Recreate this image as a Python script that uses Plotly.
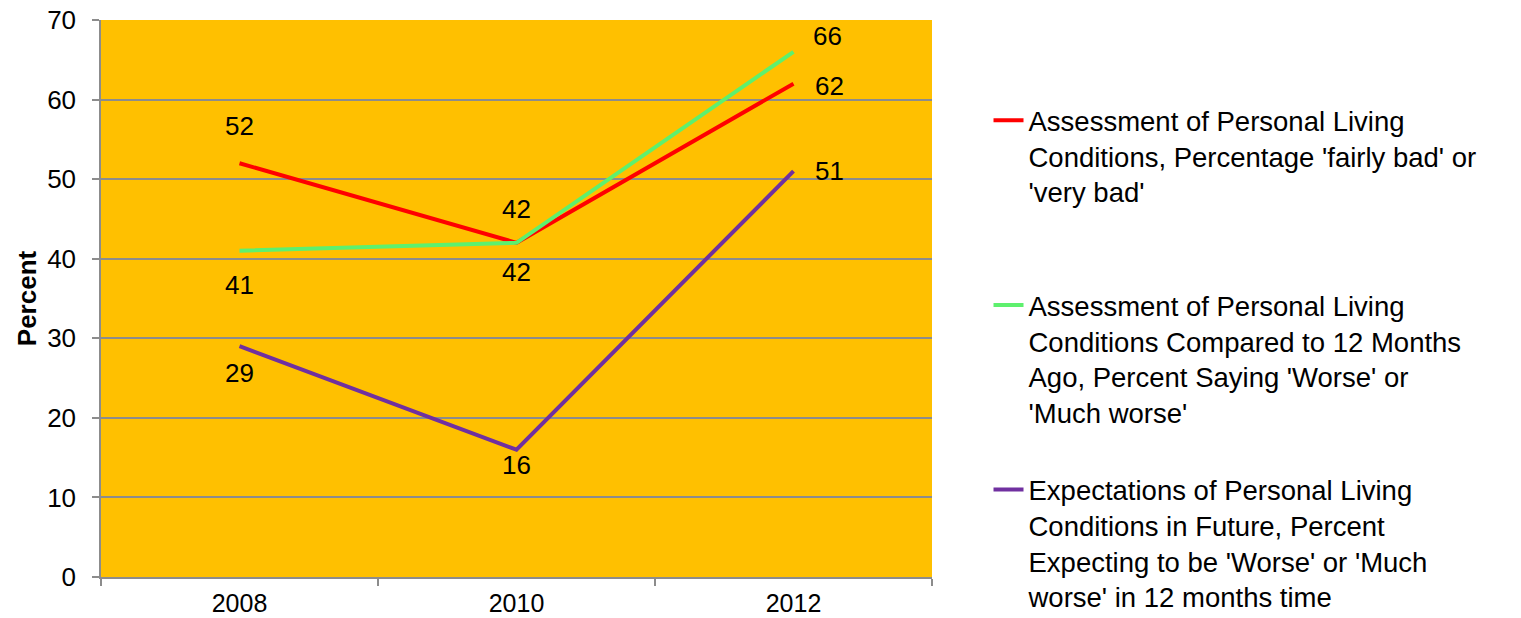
import plotly.graph_objects as go

years = ["2008", "2010", "2012"]
series_names = [
    "Assessment of Personal Living<br>Conditions, Percentage 'fairly bad' or<br>'very bad'",
    "Assessment of Personal Living<br>Conditions Compared to 12 Months<br>Ago, Percent Saying 'Worse' or<br>'Much worse'",
    "Expectations of Personal Living<br>Conditions in Future, Percent<br>Expecting to be 'Worse' or 'Much<br>worse' in 12 months time",
]
bad_now = [52, 42, 62]
worse_than_before = [41, 42, 66]
worse_future = [29, 16, 51]
y_ticks = [0, 10, 20, 30, 40, 50, 60, 70]

series_values = [bad_now, worse_than_before, worse_future]
colors = ["#FF0000", "#5EF06E", "#7030A0"]
# pixel offsets of data labels (xshift, yshift) per point
label_shifts = [
    [(0, 37), (0, 34), (36, -2)],
    [(0, -34), (0, -29), (34, 16)],
    [(0, -27), (0, -15), (36, 0)],
]
legend_tops = [0.864, 0.532, 0.201]

FONT = "Liberation Sans, Arial, sans-serif"
fig = go.Figure()
annotations = []
for i, (name, vals, col) in enumerate(zip(series_names, series_values, colors)):
    lg = "legend" if i == 0 else f"legend{i+1}"
    fig.add_trace(go.Scatter(
        x=years, y=vals, mode="lines", name=name,
        line=dict(color=col, width=4),
        legend=lg,
    ))
    for k, (v, (dx, dy)) in enumerate(zip(vals, label_shifts[i])):
        annotations.append(dict(
            x=k, y=v, xref="x", yref="y", text=str(v), showarrow=False,
            xshift=dx, yshift=dy, font=dict(size=26, color="black", family=FONT),
        ))

legend_common = dict(
    x=1.068, xanchor="left", yanchor="top", valign="top",
    bgcolor="rgba(0,0,0,0)", font=dict(size=27.5, color="black", family=FONT),
    itemwidth=30,
)
layout_legends = {}
for i, yt in enumerate(legend_tops):
    key = "legend" if i == 0 else f"legend{i+1}"
    layout_legends[key] = dict(legend_common, y=yt)

fig.update_layout(
    width=1521, height=618,
    margin=dict(l=101, r=589, t=20, b=41, autoexpand=False),
    paper_bgcolor="white",
    plot_bgcolor="#FFC000",
    font=dict(family=FONT, size=26, color="black"),
    showlegend=True,
    annotations=annotations,
    xaxis=dict(
        type="category", range=[-0.5, 2.5], automargin=False,
        tickson="boundaries", ticks="outside", ticklen=7, ticklabelstandoff=3,
        ticklabeloverflow="allow",
        tickcolor="#8C8C8C", tickwidth=1.5,
        showline=True, linecolor="#8C8C8C", linewidth=1.5,
        showgrid=False, tickfont=dict(size=25, family=FONT),
    ),
    yaxis=dict(
        range=[0, 70], tickvals=y_ticks, ticks="outside", ticklen=7,
        automargin=False, ticklabelstandoff=11, ticklabeloverflow="allow",
        tickcolor="#8C8C8C", tickwidth=1.5,
        showline=True, linecolor="#8C8C8C", linewidth=1.5,
        showgrid=True, gridcolor="#8C8C8C", gridwidth=1.5,
        zeroline=False, tickfont=dict(size=26, family=FONT),
        title=dict(text="<b>Percent</b>", font=dict(size=26, family=FONT), standoff=3),
    ),
    **layout_legends,
)
fig.write_html(
    "out.html",
    config={"displayModeBar": False},
    post_script="document.body.style.margin='0';document.body.style.overflow='hidden';",
)
